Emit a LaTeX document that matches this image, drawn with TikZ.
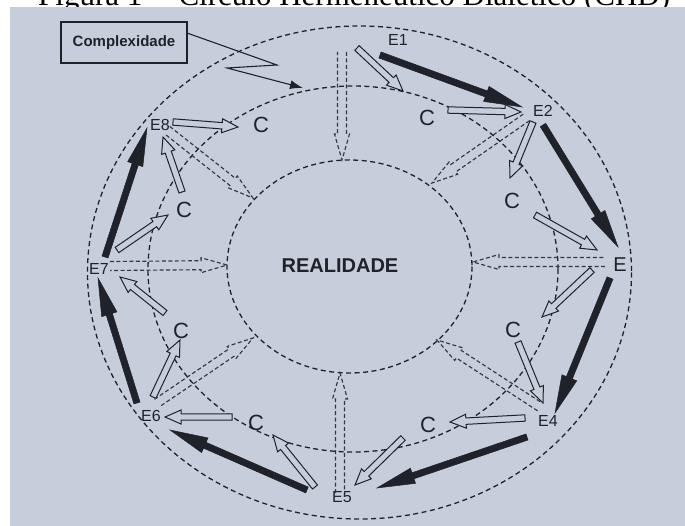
\documentclass[tikz,border=0pt]{standalone}
\usepackage{fontspec}
\setmainfont{Liberation Sans}
\newfontfamily\titlefont{Liberation Serif}
\usetikzlibrary{calc,arrows.meta}
\definecolor{paper}{RGB}{198,206,220}
\definecolor{ink}{RGB}{32,34,42}
\newcommand\blkarrow[6]{%
  \coordinate (bq) at ($(#3)!#6!(#2)$);
  \draw[#1] ($(#2)!#4!90:(#3)$) -- ($(bq)!#4!90:(#3)$) -- ($(bq)!#5!90:(#3)$) -- (#3)
    -- ($(bq)!#5!-90:(#3)$) -- ($(bq)!#4!-90:(#3)$) -- ($(#2)!#4!-90:(#3)$) -- cycle;}
\newcommand\opnarrow[6]{%
  \coordinate (bq) at ($(#3)!#6!(#2)$);
  \draw[#1] ($(#2)!#4!90:(#3)$) -- ($(bq)!#4!90:(#3)$) -- ($(bq)!#5!90:(#3)$) -- (#3)
    -- ($(bq)!#5!-90:(#3)$) -- ($(bq)!#4!-90:(#3)$) -- ($(#2)!#4!-90:(#3)$);}
\tikzset{
  ring/.style={draw=ink, line width=1.3pt, dash pattern=on 5pt off 3.5pt},
  elab/.style={inner sep=0pt, text=ink, font=\fontsize{16}{16}\selectfont},
  clab/.style={inner sep=0pt, text=ink, font=\fontsize{22}{22}\selectfont},
  hollow/.style={draw=ink, fill=paper, line width=1pt, line join=miter},
  solidarr/.style={draw=ink, fill=ink, line width=0.5pt, line join=miter},
  dasharr/.style={draw=ink!90, line width=1.15pt, dash pattern=on 4pt off 2.5pt},
}
\begin{document}
\begin{tikzpicture}[x=1pt,y=-1pt]
\useasboundingbox (0,0) rectangle (685,526);
\fill[white] (0,0) rectangle (685,526);
\node[anchor=base west, inner sep=0pt, font=\titlefont\fontsize{31}{31}\selectfont] (title) at (38,6) {Figura 1 -- Círculo Hermenêutico Dialético (CHD)};
\fill[paper] (10,7) rectangle (685,526);

% rings
\draw[ring] (359.5,272.5) ellipse [x radius=272, y radius=246.5];
\draw[ring] (353,269) ellipse [x radius=205, y radius=183];
\draw[ring] (349.5,266.5) ellipse [x radius=122.5, y radius=106.5];

\node[inner sep=0pt, text=ink, font=\bfseries\fontsize{20}{20}\selectfont] (real) at (340,265.5) {REALIDADE};

% labels
\node[elab] (e1) at (398,40) {E1};
\node[elab] (e2) at (543,111) {E2};
\node[elab, font=\fontsize{20}{20}\selectfont] (e3) at (620,265) {E};
\node[elab] (e4) at (548,421) {E4};
\node[elab] (e5) at (342,497) {E5};
\node[elab] (e6) at (151,416) {E6};
\node[elab] (e7) at (99,269) {E7};
\node[elab] (e8) at (160,125) {E8};

\node[clab] (c1) at (427,118) {C};
\node[clab] (c2) at (512,201) {C};
\node[clab] (c3) at (513,330) {C};
\node[clab] (c4) at (428,425) {C};
\node[clab] (c5) at (256,423) {C};
\node[clab] (c6) at (181,331) {C};
\node[clab] (c7) at (184,210) {C};
\node[clab] (c8) at (261,125) {C};

% complexidade
\node[draw=ink, line width=1.2pt, fill=paper, minimum width=126pt, minimum height=41pt, inner sep=0pt,
      text=ink, font=\bfseries\fontsize{15}{15}\selectfont] (cx) at (124,42.5) {Complexidade};
\coordinate (z0) at (187,33);
\coordinate (z1) at (277,65);
\coordinate (z2) at (227,68);
\coordinate (z3) at (303,88);
\draw[ink, line width=1.1pt, -{Latex[length=13pt,width=9pt]}] (z0) -- (z1) -- (z2) -- (z3);

% black arrows
\coordinate (b1s) at (380,55);  \coordinate (b1e) at (522,107);
\coordinate (b2s) at (543,125); \coordinate (b2e) at (618,247);
\coordinate (b3s) at (610,278); \coordinate (b3e) at (555,413);
\coordinate (b4s) at (527,437); \coordinate (b4e) at (377,488);
\coordinate (b5s) at (307,490); \coordinate (b5e) at (170,430);
\coordinate (b6s) at (137,403); \coordinate (b6e) at (98,278);
\coordinate (b7s) at (105,257); \coordinate (b7e) at (147,128);
\foreach \i in {1,...,7}{\blkarrow{solidarr}{b\i s}{b\i e}{3.2pt}{8pt}{38pt}}

% hollow arrows
\coordinate (w1s) at (357,48);   \coordinate (w1e) at (403,91);
\coordinate (w2s) at (448,110);  \coordinate (w2e) at (521,112);
\coordinate (w3s) at (533,122);  \coordinate (w3e) at (510,178);
\coordinate (w4s) at (535,215);  \coordinate (w4e) at (597,250);
\coordinate (w5s) at (592,270);  \coordinate (w5e) at (542,317);
\coordinate (w6s) at (518,342);  \coordinate (w6e) at (543,403);
\coordinate (w7s) at (525,418);  \coordinate (w7e) at (450,422);
\coordinate (w8s) at (403,438);  \coordinate (w8e) at (355,485);
\coordinate (w9s) at (315,487);  \coordinate (w9e) at (273,435);
\coordinate (w10s) at (232,417); \coordinate (w10e) at (165,417);
\coordinate (w11s) at (153,397); \coordinate (w11e) at (180,340);
\coordinate (w12s) at (165,313); \coordinate (w12e) at (120,277);
\coordinate (w13s) at (117,250); \coordinate (w13e) at (168,215);
\coordinate (w14s) at (182,192); \coordinate (w14e) at (163,137);
\coordinate (w15s) at (173,122); \coordinate (w15e) at (238,127);
\foreach \i in {1,...,15}{\blkarrow{hollow}{w\i s}{w\i e}{3.2pt}{7pt}{16pt}}

% dashed arrows to reality
\coordinate (d1s) at (342,52);  \coordinate (d1e) at (342,160);
\coordinate (d2s) at (527,117); \coordinate (d2e) at (432,183);
\coordinate (d3s) at (605,262); \coordinate (d3e) at (473,262);
\coordinate (d4s) at (540,407); \coordinate (d4e) at (437,340);
\coordinate (d5s) at (340,493); \coordinate (d5e) at (340,373);
\coordinate (d6s) at (157,403); \coordinate (d6e) at (253,338);
\coordinate (d7s) at (110,266); \coordinate (d7e) at (227,265);
\coordinate (d8s) at (167,130); \coordinate (d8e) at (253,198);
\foreach \i in {1,...,8}{\opnarrow{dasharr}{d\i s}{d\i e}{4.5pt}{7.5pt}{26pt}}
\end{tikzpicture}
\end{document}
